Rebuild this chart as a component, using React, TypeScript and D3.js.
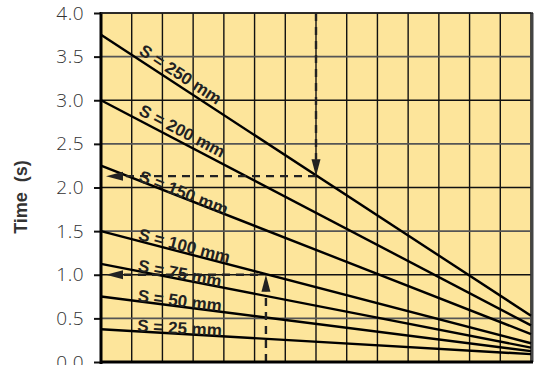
import { useEffect, useRef } from "react";
import * as d3 from "d3";

// spacing in mm, time (s) at left edge and right edge of the grid
const spacings = [250, 200, 150, 100, 75, 50, 25];
const startTimes = [3.75, 3.0, 2.25, 1.5, 1.125, 0.75, 0.375];
const endTimes = [0.53, 0.42, 0.32, 0.215, 0.165, 0.125, 0.09];
const labelNudge = [-3, -3, 3, 1, 2, 2, 2];

const yTicks = [0, 0.5, 1, 1.5, 2, 2.5, 3, 3.5, 4];
const columns = d3.range(0, 15);

// reading examples: [x where read, time read]
const readA = [7, 2.13];
const readB = [5.37, 1.0];

export default function App() {
  const ref = useRef<SVGSVGElement | null>(null);

  useEffect(() => {
    const width = 535;
    const height = 365;
    const margin = { top: 13, right: 4, bottom: 3, left: 101 };

    const svg = d3.select(ref.current);
    svg.selectAll("*").remove();

    const x = d3
      .scaleLinear()
      .domain([0, 14])
      .range([margin.left, width - margin.right]);
    const y = d3
      .scaleLinear()
      .domain([0, 4])
      .range([height - margin.bottom, margin.top]);

    svg
      .append("rect")
      .attr("x", x(0))
      .attr("y", y(4))
      .attr("width", x(14) - x(0))
      .attr("height", y(0) - y(4))
      .attr("fill", "#fde59b");

    // grid
    svg
      .append("g")
      .selectAll("line")
      .data(columns)
      .join("line")
      .attr("x1", (d) => x(d))
      .attr("x2", (d) => x(d))
      .attr("y1", y(4))
      .attr("y2", y(0))
      .attr("stroke", "#111")
      .attr("stroke-width", 1.4);
    svg
      .append("g")
      .selectAll("line")
      .data(yTicks)
      .join("line")
      .attr("x1", x(0))
      .attr("x2", x(14))
      .attr("y1", (d) => y(d))
      .attr("y2", (d) => y(d))
      .attr("stroke", (d) => (d % 1 === 0 ? "#111" : "#555"))
      .attr("stroke-width", 1.6);

    // right border
    svg
      .append("line")
      .attr("x1", x(14) + 1)
      .attr("x2", x(14) + 1)
      .attr("y1", y(4))
      .attr("y2", y(0))
      .attr("stroke", "#444")
      .attr("stroke-width", 3);

    // lines
    const line = d3
      .line<[number, number]>()
      .x((d) => x(d[0]))
      .y((d) => y(d[1]));

    spacings.forEach((s, i) => {
      const pts: [number, number][] = [
        [0, startTimes[i]],
        [14, endTimes[i]],
      ];
      svg
        .append("path")
        .datum(pts)
        .attr("fill", "none")
        .attr("stroke", "#000")
        .attr("stroke-width", 2.4)
        .attr("d", line);

      const lx = 1.17;
      const slope = (endTimes[i] - startTimes[i]) / 14;
      const ly = startTimes[i] + slope * lx;
      const angle =
        (Math.atan2(y(endTimes[i]) - y(startTimes[i]), x(14) - x(0)) * 180) /
        Math.PI;
      svg
        .append("text")
        .attr(
          "transform",
          `translate(${x(lx)},${y(ly) + labelNudge[i]}) rotate(${angle})`
        )
        .attr("dy", -2)
        .attr("font-family", "Liberation Sans, Arial, sans-serif")
        .attr("font-weight", "bold")
        .attr("font-size", 17)
        .attr("fill", "#222")
        .text(`S = ${s} mm`);
    });

    // dashed read-offs with arrowheads
    const dash = (x1: number, y1: number, x2: number, y2: number) =>
      svg
        .append("line")
        .attr("x1", x1)
        .attr("y1", y1)
        .attr("x2", x2)
        .attr("y2", y2)
        .attr("stroke", "#222")
        .attr("stroke-width", 2.4)
        .attr("stroke-dasharray", "8 6");
    const arrow = (tx: number, ty: number, dir: "left" | "down" | "up") => {
      const L = 17;
      const W = 4.5;
      let p: [number, number][];
      if (dir === "left")
        p = [
          [tx, ty],
          [tx + L, ty - W],
          [tx + L, ty + W],
        ];
      else if (dir === "down")
        p = [
          [tx, ty],
          [tx - W, ty - L],
          [tx + W, ty - L],
        ];
      else
        p = [
          [tx, ty],
          [tx - W, ty + L],
          [tx + W, ty + L],
        ];
      svg
        .append("path")
        .attr("d", "M" + p.map((q) => q.join(",")).join("L") + "Z")
        .attr("fill", "#222");
    };

    dash(x(readA[0]), y(4), x(readA[0]), y(readA[1]) - 17);
    arrow(x(readA[0]), y(readA[1]), "down");
    dash(x(readA[0]), y(readA[1]), x(0) + 22, y(readA[1]));
    arrow(x(0) + 5, y(readA[1]), "left");

    dash(x(readB[0]), y(0), x(readB[0]), y(readB[1]) + 17);
    arrow(x(readB[0]), y(readB[1]), "up");
    dash(x(readB[0]) - 8, y(readB[1]), x(0) + 22, y(readB[1]));
    arrow(x(0) + 5, y(readB[1]), "left");

    // axes
    const yAxis = svg
      .append("g")
      .attr("transform", `translate(${margin.left},0)`)
      .call(
        d3
          .axisLeft(y)
          .tickValues(yTicks)
          .tickSize(7)
          .tickPadding(10)
          .tickFormat(d3.format(".1f"))
      );
    yAxis.select(".domain").remove();
    yAxis.selectAll(".tick line").attr("stroke", "#111").attr("stroke-width", 2);
    yAxis
      .selectAll(".tick text")
      .attr("font-family", "Open Sans, Liberation Sans, Arial, sans-serif")
      .attr("font-weight", 300)
      .attr("font-size", 19)
      .attr("letter-spacing", 0.5)
      .attr("fill", "#333");

    svg
      .append("line")
      .attr("x1", x(0))
      .attr("x2", x(0))
      .attr("y1", y(4) - 1)
      .attr("y2", y(0) + 2)
      .attr("stroke", "#000")
      .attr("stroke-width", 3);
    svg
      .append("line")
      .attr("x1", x(0))
      .attr("x2", x(14) + 2)
      .attr("y1", y(0))
      .attr("y2", y(0))
      .attr("stroke", "#000")
      .attr("stroke-width", 3);
    svg
      .append("line")
      .attr("x1", x(0))
      .attr("x2", x(14) + 2)
      .attr("y1", y(4))
      .attr("y2", y(4))
      .attr("stroke", "#222")
      .attr("stroke-width", 1.5);

    svg
      .append("text")
      .attr("transform", `translate(27,197) rotate(-90)`)
      .attr("text-anchor", "middle")
      .attr("font-family", "Liberation Sans, Arial, sans-serif")
      .attr("font-weight", "bold")
      .attr("font-size", 18)
      .attr("fill", "#333")
      .attr("xml:space", "preserve")
      .text("Time  (s)");
  }, []);

  return (
    <svg
      ref={ref}
      width={535}
      height={365}
      style={{ position: "absolute", left: 0, top: 0 }}
    />
  );
}
